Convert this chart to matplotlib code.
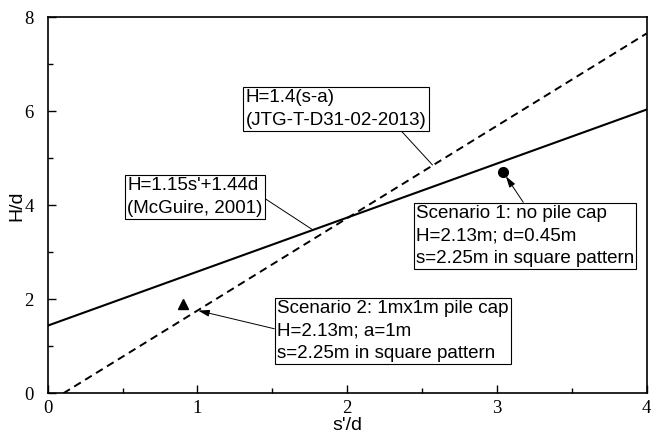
import matplotlib
matplotlib.use("Agg")
import matplotlib.pyplot as plt
from matplotlib.ticker import MultipleLocator

# McGuire (2001) line: H = 1.15s' + 1.44d
mcguire_x = [0.0, 4.0]
mcguire_y = [1.44, 6.04]

# JTG-T-D31-02-2013 line: H = 1.4(s-a)
jtg_x = [0.104, 4.0]
jtg_y = [0.0, 7.66]

# field scenarios
scen1_x, scen1_y = [3.04], [4.72]   # no pile cap
scen2_x, scen2_y = [0.905], [1.90]  # 1mx1m pile cap

sans = "Liberation Sans"
serif = "Liberation Serif"
fs = 13.5
ls = 1.42

fig = plt.figure(figsize=(6.51, 4.37), dpi=100)
ax = fig.add_axes([0.0733, 0.100, 0.920, 0.860])

ax.plot(mcguire_x, mcguire_y, color="black", lw=1.5)
ax.plot(jtg_x, jtg_y, color="black", lw=1.4, dashes=(4, 2.6))
ax.plot(scen2_x, scen2_y, marker="^", color="black", ms=7, ls="none")
ax.plot(scen1_x, scen1_y, marker="o", color="black", ms=7, ls="none")

box = dict(boxstyle="square,pad=0.12", fc="white", ec="black", lw=0.8)
thin = dict(arrowstyle="-", color="black", lw=0.7, shrinkA=0, shrinkB=0)

ax.annotate("H=1.4(s-a)\n(JTG-T-D31-02-2013)", xy=(2.57, 4.86), xytext=(1.322, 6.47),
            ha="left", va="top", fontsize=fs, family=sans, bbox=box,
            arrowprops=dict(thin, relpos=(0.85, 0.0)), linespacing=ls)

ax.annotate("H=1.15s'+1.44d\n(McGuire, 2001)", xy=(1.77, 3.48), xytext=(0.53, 4.60),
            ha="left", va="top", fontsize=fs, family=sans, bbox=box,
            arrowprops=dict(thin, relpos=(1.0, 0.5)), linespacing=ls)

head = dict(arrowstyle="-|>,head_length=0.5,head_width=0.15", color="black",
            lw=0.7, shrinkA=0, shrinkB=0)

ax.annotate("Scenario 2: 1mx1m pile cap\nH=2.13m; a=1m\ns=2.25m in square pattern",
            xy=(1.005, 1.76), xytext=(1.531, 1.98),
            ha="left", va="top", fontsize=fs, family=sans, bbox=box,
            arrowprops=dict(head, relpos=(0.0, 0.53)), linespacing=ls)

ax.annotate("Scenario 1: no pile cap\nH=2.13m; d=0.45m\ns=2.25m in square pattern",
            xy=(3.06, 4.62), xytext=(2.459, 4.01),
            ha="left", va="top", fontsize=fs, family=sans, bbox=box,
            arrowprops=dict(head, relpos=(0.5, 1.0)), linespacing=ls)

ax.set_xlim(0, 4)
ax.set_ylim(0, 8)
ax.xaxis.set_major_locator(MultipleLocator(1))
ax.xaxis.set_minor_locator(MultipleLocator(0.5))
ax.yaxis.set_major_locator(MultipleLocator(2))
ax.yaxis.set_minor_locator(MultipleLocator(1))
ax.tick_params(which="both", direction="in", top=False, right=False)
ax.tick_params(which="major", length=6, width=1)
ax.tick_params(which="minor", length=3.5, width=1)
ax.tick_params(axis="x", which="major", pad=5)
ax.tick_params(axis="y", which="major", pad=10)
for lbl in ax.get_xticklabels() + ax.get_yticklabels():
    lbl.set_family(serif)
    lbl.set_fontsize(13.5)
for sp in ax.spines.values():
    sp.set_linewidth(1.2)

ax.set_xlabel("s'/d", family=sans, fontsize=14, labelpad=0)
ax.set_ylabel("H/d", family=sans, fontsize=14, labelpad=-1)

fig.savefig("out.png", dpi=100)
